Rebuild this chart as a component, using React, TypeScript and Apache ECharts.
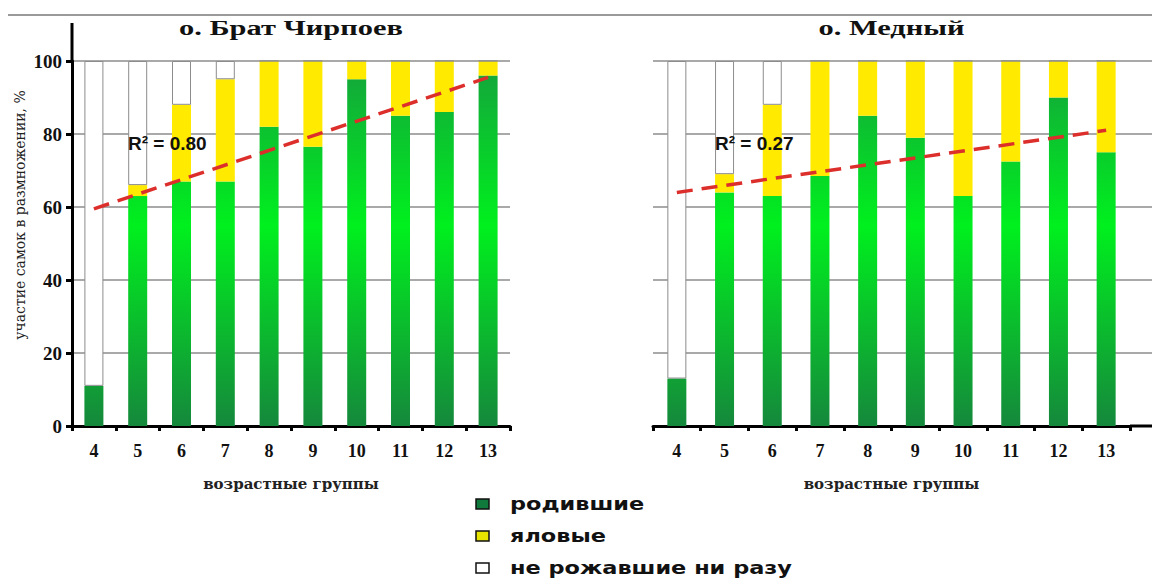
import React, { useEffect, useRef } from "react";
import * as echarts from "echarts";

// ---- data ----
const ages = ["4", "5", "6", "7", "8", "9", "10", "11", "12", "13"];
const yTicks = [0, 20, 40, 60, 80, 100];

const bratBorn = [11, 63, 67, 67, 82, 76.5, 95, 85, 86, 96];
const bratBarren = [0, 3, 21, 28, 18, 23.5, 5, 15, 14, 4];
const bratNever = [89, 34, 12, 5, 0, 0, 0, 0, 0, 0];
const bratTrend = [59.5, 95.5]; // at age 4 and age 13
const bratR2 = "R\u00b2 = 0.80";

const mednyBorn = [13, 64, 63, 68.5, 85, 79, 63, 72.5, 90, 75];
const mednyBarren = [0, 5, 25, 31.5, 15, 21, 37, 27.5, 10, 25];
const mednyNever = [87, 31, 12, 0, 0, 0, 0, 0, 0, 0];
const mednyTrend = [64, 81];
const mednyR2 = "R\u00b2 = 0.27";

const titles = ["о. Брат Чирпоев", "о. Медный"];
const seriesNames = ["родившие", "яловые", "не рожавшие ни разу"];
const xName = "возрастные группы";
const yName = "участие самок в размножении, %";

// ---- layout ----
const W = 1152;
const H = 579;
const TOP = 61;
const PH = 365;
const L1 = 72;
const W1 = 438;
const L2 = 653;
const W2 = 477;

const serif = "DejaVu Serif";
const times = "Liberation Serif";
const sans = "DejaVu Sans";

function trendData(t: number[]) {
  return ages.map((_, i) => (i === 0 ? t[0] : i === ages.length - 1 ? t[1] : null));
}

export default function App() {
  const ref = useRef<HTMLDivElement>(null);
  useEffect(() => {
    if (!ref.current) return;
    const chart = echarts.init(ref.current, null, { renderer: "svg" });
    const green = new echarts.graphic.LinearGradient(
      0,
      TOP,
      0,
      TOP + PH,
      [
        { offset: 0, color: "#14a23c" },
        { offset: 0.45, color: "#00f01e" },
        { offset: 1, color: "#15883c" },
      ],
      true
    );
    const yellow = "#ffea00";
    const grey = "#8c8c8c";

    const mkBars = (idx: number, born: number[], barren: number[], never: number[]) => [
      {
        name: seriesNames[0],
        type: "bar",
        xAxisIndex: idx,
        yAxisIndex: idx,
        stack: "s" + idx,
        barWidth: 19,
        data: born,
        itemStyle: { color: green },
      },
      {
        name: seriesNames[1],
        type: "bar",
        xAxisIndex: idx,
        yAxisIndex: idx,
        stack: "s" + idx,
        barWidth: 19,
        data: barren,
        itemStyle: { color: yellow },
      },
      {
        name: seriesNames[2],
        type: "bar",
        xAxisIndex: idx,
        yAxisIndex: idx,
        stack: "s" + idx,
        barWidth: 19,
        data: never,
        itemStyle: { color: "#ffffff", borderColor: grey, borderWidth: 1 },
      },
    ];
    const mkTrend = (idx: number, t: number[]) => ({
      type: "line",
      xAxisIndex: idx,
      yAxisIndex: idx,
      data: trendData(t),
      connectNulls: true,
      symbol: "none",
      z: 5,
      lineStyle: { color: "#dc2f2b", width: 3.5, type: [16, 9] },
    });

    const xAxisCommon = {
      type: "category",
      data: ages,
      boundaryGap: true,
      axisLine: { show: true, lineStyle: { color: "#000", width: 3 } },
      axisTick: { show: true, length: 5, lineStyle: { color: "#000", width: 3 } },
      axisLabel: {
        color: "#111",
        fontFamily: times,
        fontWeight: "bold",
        fontSize: 18,
        margin: 16,
      },
      name: xName,
      nameLocation: "middle",
      nameGap: 50,
      nameTextStyle: { color: "#222", fontFamily: serif, fontWeight: "bold", fontSize: 15 },
    };
    const yAxisCommon = {
      type: "value",
      min: 0,
      max: 100,
      interval: 20,
      splitLine: { show: true, lineStyle: { color: grey, width: 1.5 } },
    };

    const yOf = (v: number) => TOP + (1 - v / 100) * PH;
    const extLines: any[] = yTicks
      .filter((v) => v > 0)
      .map((v) => ({
        type: "line",
        shape: { x1: L2 + W2, y1: yOf(v), x2: W, y2: yOf(v) },
        style: { stroke: grey, lineWidth: 1.5 },
        silent: true,
      }));
    extLines.push({
      type: "line",
      shape: { x1: L2 + W2, y1: yOf(0), x2: W, y2: yOf(0) },
      style: { stroke: "#000", lineWidth: 3 },
      silent: true,
    });

    const legendRows = [
      { fill: "#0f7a3c" },
      { fill: "#e8e600" },
      { fill: "#ffffff" },
    ];
    const legendEls: any[] = [];
    legendRows.forEach((r, i) => {
      const cy = 504 + i * 32;
      legendEls.push({
        type: "rect",
        shape: { x: 476, y: cy - 5, width: 13, height: 10 },
        style: { fill: r.fill, stroke: "#111", lineWidth: 1.5 },
      });
      legendEls.push({
        type: "text",
        x: 510,
        y: cy,
        scaleX: 1.32,
        style: {
          text: seriesNames[i],
          fontFamily: sans,
          fontWeight: "bold",
          fontSize: 17,
          fill: "#111",
          textVerticalAlign: "middle",
          textAlign: "left",
        },
      });
    });

    const titleEl = (cx: number, text: string) => ({
      type: "text",
      x: cx,
      y: 28,
      scaleX: 1.45,
      style: {
        text,
        fontFamily: times,
        fontWeight: "bold",
        fontSize: 21,
        fill: "#111",
        textAlign: "center",
        textVerticalAlign: "middle",
      },
    });
    const r2El = (x: number, text: string) => ({
      type: "text",
      x,
      y: 143,
      z: 10,
      style: {
        text,
        fontFamily: "Liberation Sans",
        fontWeight: "bold",
        fontSize: 19,
        fill: "#111",
        textVerticalAlign: "middle",
      },
    });

    chart.setOption({
      animation: false,
      backgroundColor: "#ffffff",
      grid: [
        { left: L1, top: TOP, width: W1, height: PH },
        { left: L2, top: TOP, width: W2, height: PH },
      ],
      xAxis: [
        { ...xAxisCommon, gridIndex: 0 },
        { ...xAxisCommon, gridIndex: 1 },
      ],
      yAxis: [
        {
          ...yAxisCommon,
          gridIndex: 0,
          axisLine: { show: true, lineStyle: { color: "#000", width: 3 } },
          axisTick: { show: true, length: 6, lineStyle: { color: "#000", width: 3 } },
          axisLabel: {
            color: "#111",
            fontFamily: times,
            fontWeight: "bold",
            fontSize: 19,
            margin: 10,
          },
        },
        {
          ...yAxisCommon,
          gridIndex: 1,
          axisLine: { show: false },
          axisTick: { show: false },
          axisLabel: { show: false },
        },
      ],
      series: [
        ...mkBars(0, bratBorn, bratBarren, bratNever),
        mkTrend(0, bratTrend),
        ...mkBars(1, mednyBorn, mednyBarren, mednyNever),
        mkTrend(1, mednyTrend),
      ],
      graphic: [
        {
          type: "line",
          shape: { x1: 8, y1: 15, x2: W, y2: 15 },
          style: { stroke: "#9a9a9a", lineWidth: 2 },
          silent: true,
        },
        {
          type: "line",
          shape: { x1: L1, y1: 23, x2: L1, y2: TOP },
          style: { stroke: "#000", lineWidth: 3 },
          silent: true,
        },
        ...extLines,
        titleEl(L1 + W1 / 2, titles[0]),
        titleEl(L2 + W2 / 2, titles[1]),
        {
          type: "text",
          x: 20,
          y: 215,
          rotation: Math.PI / 2,
          style: {
            text: yName,
            fontFamily: serif,
            fontSize: 14,
            fill: "#222",
            textAlign: "center",
            textVerticalAlign: "middle",
          },
        },
        r2El(128, bratR2),
        r2El(715, mednyR2),
        ...legendEls,
      ],
    });
    return () => chart.dispose();
  }, []);
  return (
    <div
      ref={ref}
      style={{ position: "absolute", left: 0, top: 0, width: W, height: H, background: "#fff" }}
    />
  );
}
